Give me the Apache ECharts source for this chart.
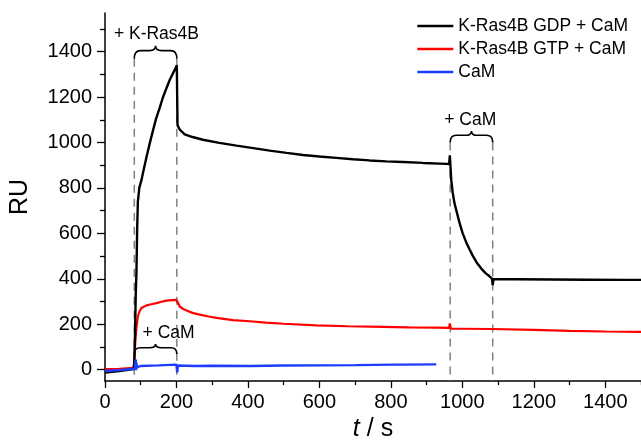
<!DOCTYPE html>
<html>
<head>
<meta charset="utf-8">
<script src="https://cdn.jsdelivr.net/npm/echarts@6/dist/echarts.min.js"></script>
<style>html,body{margin:0;padding:0;background:#fff}#c{width:641px;height:447px}</style>
</head>
<body>
<div id="c"></div>
<script>
// ---- data (t in s, response in RU) ----
const seriesNames = ['K-Ras4B GDP + CaM', 'K-Ras4B GTP + CaM', 'CaM'];
const gdpData = [[0,-13],[20,-10],[40,-6],[60,-2],[80,3],[82,30],[84,150],[86,330],[88,430],[90,620],[92,740],[96,800],[102,834],[109,885],[116,935],[125,995],[134,1051],[143,1105],[153,1152],[162,1198],[172,1239],[181,1275],[190,1304],[197,1325],[201,1340],[202,1200],[203,1075],[210,1055],[223,1036],[245,1024],[274,1012],[320,998],[368,986],[415,975],[461,964],[508,954],[554,945],[600,938],[647,932],[694,926],[740,921],[787,917],[834,914],[890,910],[955,906],[963,905],[965,943],[967,890],[969,834],[973,780],[978,733],[985,690],[992,647],[1001,600],[1011,560],[1020,530],[1029,502],[1040,472],[1053,445],[1065,425],[1076,411],[1083,401],[1085,372],[1087,398],[1150,398],[1250,397],[1350,396],[1450,395],[1500,395]];
const gtpData = [[0,2],[40,4],[80,8],[82,40],[83,69],[85,130],[88,185],[92,235],[97,258],[102,271],[116,283],[130,288],[144,293],[158,299],[172,304],[188,306],[200,307],[202,300],[205,292],[209,278],[218,268],[228,260],[245,250],[265,242],[290,234],[312,228],[358,218],[405,213],[450,207],[500,202],[591,195],[680,191],[778,188],[850,186],[925,185],[928,192],[931,185],[963,184],[965,203],[968,180],[1000,180],[1083,179],[1085,172],[1087,179],[1200,175],[1300,171],[1400,168],[1500,166]];
const camData = [[0,-6],[40,-2],[83,4],[85,10],[86,45],[87,-2],[88,30],[90,10],[99,16],[150,19],[200,22],[202,-12],[204,18],[251,16],[302,17],[405,16],[500,18],[600,19],[700,20],[815,22],[833,22],[927,23]];

// ---- axes ----
const xMajorTicks = [0,200,400,600,800,1000,1200,1400];
const xMinorTicks = [100,300,500,700,900,1100,1300,1500];
const yMajorTicks = [0,200,400,600,800,1000,1200,1400];
const yMinorTicks = [100,300,500,700,900,1100,1300,1500];

// ---- injection annotations (data coordinates) ----
const annotStart = [82, 966, 82];
const annotEnd = [201, 1085, 201];
const braceBase = [1369, 1000, 69];
const braceTip = [1426, 1051, 113];
const annotText = ['+ K-Ras4B', '+ CaM', '+ CaM'];
const annotTextX = [144, 1022, 178];
const annotTextY = [1477, 1099, 159];
const annotDashed = [true, true, false];
const yMin = -50, yMax = 1570, xMin = 0, xMax = 1500;

const FONT = '"Liberation Sans", Arial, sans-serif';
const chart = echarts.init(document.getElementById('c'), null, {renderer: 'canvas'});

const annotItems = annotStart.map((s, i) => [s, annotEnd[i], braceBase[i], braceTip[i]]);
const plain = v => String(v);

function renderAnnot(params, api) {
  const i = params.dataIndex;
  const p0 = api.coord([api.value(0), api.value(2)]);
  const p1 = api.coord([api.value(1), api.value(2)]);
  const pt = api.coord([api.value(0), api.value(3)]);
  const pAxis = api.coord([api.value(0), yMin]);
  const x0 = p0[0], x1 = p1[0], yb = p0[1], yt = pt[1];
  const xc = (x0 + x1) / 2;
  const ym = yb + (yt - yb) * 0.62;
  const r = 6;
  const path = `M${x0},${yb} Q${x0},${ym} ${x0 + r},${ym} L${xc - r},${ym} Q${xc},${ym} ${xc},${yt} Q${xc},${ym} ${xc + r},${ym} L${x1 - r},${ym} Q${x1},${ym} ${x1},${yb}`;
  const children = [];
  if (annotDashed[i]) {
    [x0, x1].forEach(x => children.push({
      type: 'line', shape: {x1: x, y1: yb, x2: x, y2: pAxis[1]},
      style: {stroke: '#808080', lineWidth: 1.5, lineDash: [8, 6]}
    }));
  }
  children.push({type: 'path', shape: {pathData: path}, style: {stroke: '#000', lineWidth: 1.6, fill: null}});
  const tp = api.coord([annotTextX[i], annotTextY[i]]);
  children.push({type: 'text', x: tp[0], y: tp[1], style: {text: annotText[i], fill: '#000', font: '17.5px ' + FONT, align: 'center', verticalAlign: 'middle'}});
  return {type: 'group', children};
}

const option = {
  animation: false,
  backgroundColor: '#fff',
  grid: {left: 105, right: 0, top: 13, bottom: 59, containLabel: false},
  legend: {
    data: seriesNames,
    orient: 'vertical', right: 8, top: 11, align: 'left',
    icon: 'rect', itemWidth: 36, itemHeight: 2.5, itemGap: 3,
    textStyle: {fontFamily: FONT, fontSize: 17.5, color: '#000', lineHeight: 20}
  },
  xAxis: [{
    type: 'value', min: xMin, max: xMax,
    name: '{i|t} / s', nameLocation: 'middle', nameGap: 36,
    nameTextStyle: {fontFamily: FONT, fontSize: 25, color: '#000', rich: {i: {fontFamily: FONT, fontSize: 25, fontStyle: 'italic', color: '#000'}}},
    axisLine: {show: true, onZero: false, lineStyle: {color: '#000', width: 1.5}},
    axisTick: {show: true, inside: false, length: 7, lineStyle: {color: '#000', width: 1.3}, customValues: xMajorTicks},
    axisLabel: {fontFamily: FONT, fontSize: 20, color: '#000', margin: 11, customValues: xMajorTicks, formatter: plain},
    splitLine: {show: false}
  }, {
    type: 'value', min: xMin, max: xMax, position: 'bottom',
    axisLine: {show: false, onZero: false},
    axisTick: {show: true, inside: false, length: 4, lineStyle: {color: '#000', width: 1.3}, customValues: xMinorTicks},
    axisLabel: {show: false}, splitLine: {show: false}
  }],
  yAxis: [{
    type: 'value', min: yMin, max: yMax,
    name: 'RU', nameLocation: 'middle', nameGap: 72, nameRotate: 90,
    nameTextStyle: {fontFamily: FONT, fontSize: 25, color: '#000'},
    axisLine: {show: true, onZero: false, lineStyle: {color: '#000', width: 1.5}},
    axisTick: {show: true, inside: false, length: 8, lineStyle: {color: '#000', width: 1.3}, customValues: yMajorTicks},
    axisLabel: {fontFamily: FONT, fontSize: 20, color: '#000', margin: 13, customValues: yMajorTicks, formatter: plain},
    splitLine: {show: false}
  }, {
    type: 'value', min: yMin, max: yMax, position: 'left',
    axisLine: {show: false, onZero: false},
    axisTick: {show: true, inside: false, length: 5, lineStyle: {color: '#000', width: 1.3}, customValues: yMinorTicks},
    axisLabel: {show: false}, splitLine: {show: false}
  }],
  series: [
    {
      type: 'custom', name: 'annotations', coordinateSystem: 'cartesian2d',
      xAxisIndex: 0, yAxisIndex: 0, encode: {x: [0, 1], y: [2, 3]},
      data: annotItems, renderItem: renderAnnot, clip: false, z: 1, silent: true
    },
    {name: seriesNames[0], type: 'line', data: gdpData, showSymbol: false, symbol: 'none', z: 4,
      lineStyle: {color: '#000000', width: 2.4}, itemStyle: {color: '#000000'}},
    {name: seriesNames[1], type: 'line', data: gtpData, showSymbol: false, symbol: 'none', z: 3,
      lineStyle: {color: '#ff0000', width: 2.2}, itemStyle: {color: '#ff0000'}},
    {name: seriesNames[2], type: 'line', data: camData, showSymbol: false, symbol: 'none', z: 5,
      lineStyle: {color: '#1a3dff', width: 2.4}, itemStyle: {color: '#1a3dff'}}
  ]
};
chart.setOption(option);
</script>
</body>
</html>
